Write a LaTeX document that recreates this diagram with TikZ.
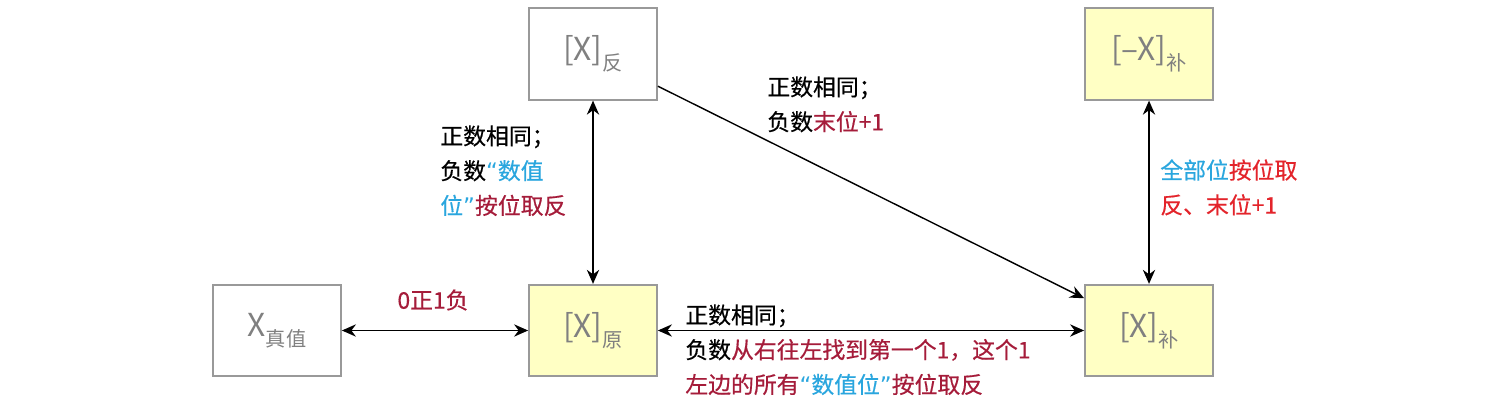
\documentclass[tikz,border=0pt]{standalone}
\usepackage{fontspec}
\setmainfont{Noto Sans CJK SC}
\newfontfamily\lblfont{Noto Sans CJK SC}[RawFeature={embolden=0.5}]
\newfontfamily\qfont{DejaVu Sans}
\usepackage{xcolor}
\usetikzlibrary{arrows.meta}
\definecolor{cbox}{HTML}{999999}
\definecolor{cyel}{HTML}{FFFFC4}
\definecolor{ctxt}{HTML}{808080}
\definecolor{cdred}{HTML}{A51C3A}
\definecolor{cblue}{HTML}{2AA6DE}
\definecolor{cred}{HTML}{E3242B}
\newcommand{\bsub}[1]{\raisebox{-0.6ex}{\fontsize{11.5pt}{12pt}\selectfont #1}}
\newcommand{\qopen}{{\qfont “}}
\newcommand{\qclose}{{\qfont ”}}

\begin{document}
\begin{tikzpicture}[>={Stealth[length=8pt,width=7pt]},
    code/.style={draw=cbox,line width=1pt,minimum width=2.56cm,minimum height=1.83cm,
      text=ctxt,font=\fontsize{18pt}{20pt}\selectfont},
    yel/.style={code,fill=cyel},
    lbl/.style={inner sep=0pt,align=left,font=\lblfont\fontsize{13pt}{19.8pt}\selectfont},
    link/.style={line width=0.8pt}]
  \useasboundingbox (0,0) rectangle (29.86,8.08);
  % boxes
  \node[code] (zhen)  at (5.54,1.47)  {X\bsub{真值}};
  \node[yel]  (yuan)  at (11.86,1.47) {[X]\bsub{原}};
  \node[code] (fan)   at (11.86,7.0)  {[X]\bsub{反}};
  \node[yel]  (negbu) at (22.98,7.0)  {[–X]\bsub{补}};
  \node[yel]  (bu)    at (22.98,1.47) {[X]\bsub{补}};
  % connectors
  \draw[link,<->] (zhen) -- (yuan);
  \draw[link,<->] (yuan) -- (bu);
  \draw[link,<->] (fan) -- (yuan);
  \draw[link,->] (fan) -- (bu);
  \draw[link,<->] (negbu) -- (bu);
  % labels
  \node[lbl,text=cdred] (sign) at (8.66,2.08) {0正1负};
  \node[lbl,anchor=north west] (fanlbl) at (8.8,5.58)
    {正数相同；\\负数\textcolor{cblue}{\qopen 数值}\\\textcolor{cblue}{位\qclose}\textcolor{cdred}{按位取反}};
  \node[lbl,anchor=north west] (diaglbl) at (15.34,6.56)
    {正数相同；\\负数\textcolor{cdred}{末位+1}};
  \node[lbl,anchor=north west] (bottomlbl) at (13.7,2.0)
    {正数相同；\\负数\textcolor{cdred}{从右往左找到第一个1，这个1}\\
     \textcolor{cdred}{左边的所有}\textcolor{cblue}{\qopen 数值位\qclose}\textcolor{cdred}{按位取反}};
  \node[lbl,anchor=north west] (bulbl) at (23.2,4.9)
    {\textcolor{cblue}{全部位}\textcolor{cred}{按位取}\\\textcolor{cred}{反、末位+1}};
\end{tikzpicture}
\end{document}
